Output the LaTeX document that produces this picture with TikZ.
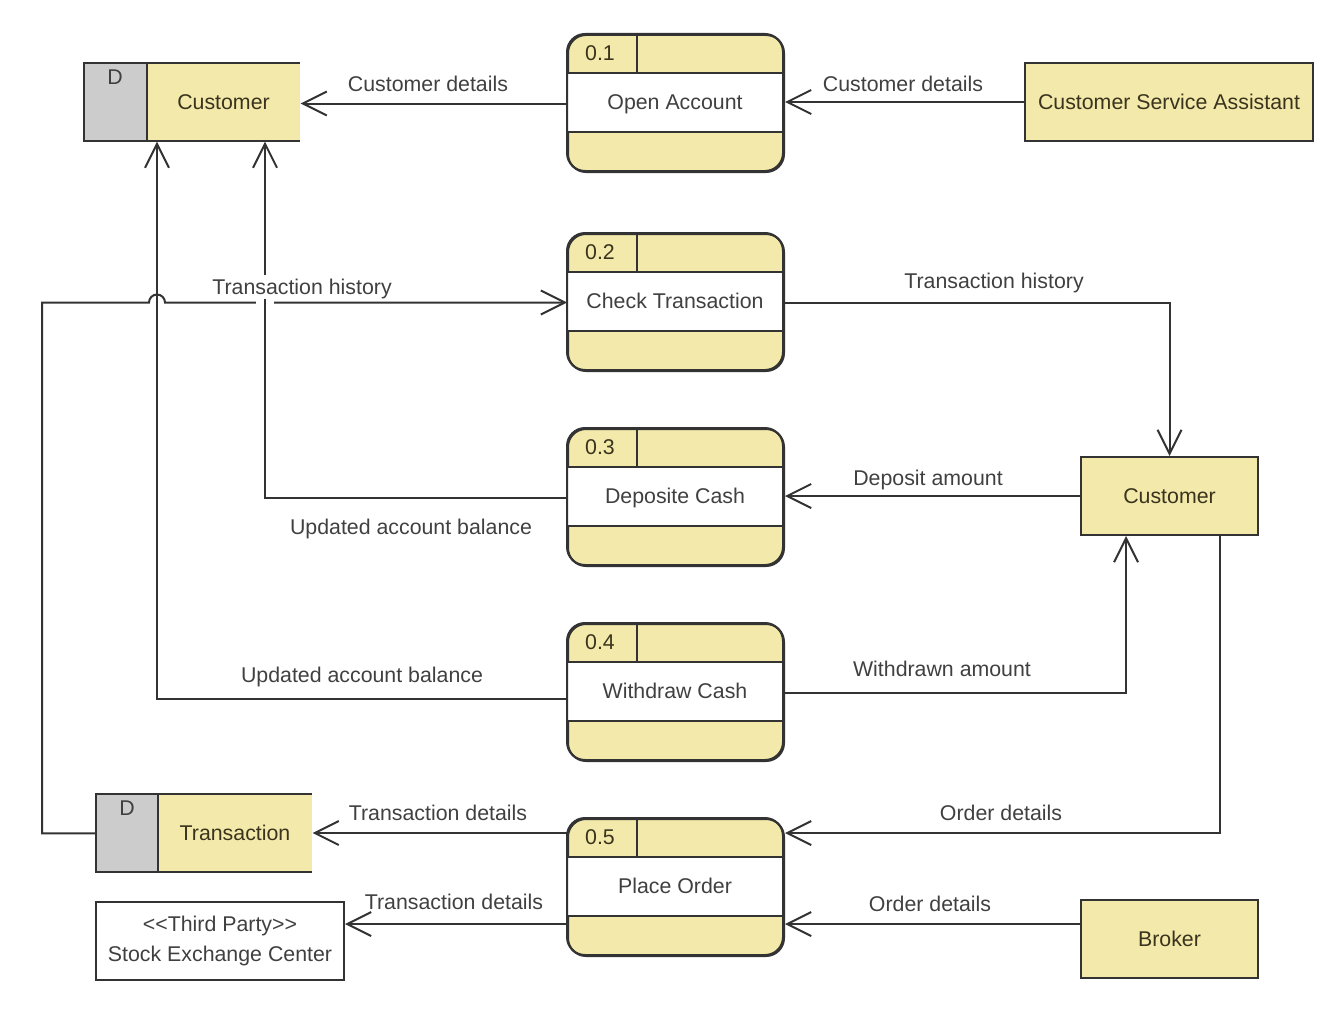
\documentclass[tikz,border=0pt]{standalone}
\usepackage{fontspec}
\setmainfont{Liberation Sans}
\usetikzlibrary{arrows.meta,calc}
\definecolor{dfdyel}{RGB}{242,233,170}
\definecolor{dfdgray}{RGB}{204,204,204}
\definecolor{dfdline}{RGB}{51,51,51}
\definecolor{dfdtext}{RGB}{64,64,64}
\definecolor{enttext}{RGB}{58,52,30}
\tikzset{
  flow/.style={draw=dfdline, line width=1.5pt, -{Straight Barb[length=18pt,width=18pt,line width=1.5pt]}},
  txt/.style={text height=11.5pt, text depth=0pt, inner sep=0pt},
  lbl/.style={txt, text=dfdtext},
  ent/.style={draw=dfdline, fill=dfdyel, line width=1.5pt, text=enttext, inner sep=0pt, minimum height=58.5pt},
  procbox/.style={draw=dfdline, fill=dfdyel, line width=1.5pt, rounded corners=13.5pt, minimum width=162pt, minimum height=102.75pt, inner sep=0pt, anchor=north west},
  storebox/.style={fill=dfdyel, minimum width=162pt, minimum height=58.5pt, inner sep=0pt, anchor=north west},
  ptext/.style={txt, text=dfdtext},
}
\newcommand\dfdproc[5]{%
  \begin{scope}[shift={(#2,#3)}]
    \node[procbox] (#1) at (0,0) {};
    \fill[white] (0,39) rectangle (216,98);
    \draw[dfdline, line width=1.5pt] (0,39) -- (216,39) (0,98) -- (216,98) (70,0) -- (70,39);
    \draw[dfdline, line width=1.5pt, rounded corners=13.5pt] (0,0) rectangle (216,137);
    \node[ptext, text=enttext] (#1id) at (33,18.5) {#4};
    \node[ptext] (#1txt) at (108,67.5) {#5};
  \end{scope}}
\newcommand\dfdstore[5]{%
  \begin{scope}[shift={(#2,#3)}]
    \node[storebox] (#1) at (0,0) {};
    \fill[dfdgray] (0,0) rectangle (#4,78);
    \draw[dfdline, line width=1.5pt] (216,0) -- (0,0) -- (0,78) -- (216,78) (#4,0) -- (#4,78);
    \node[ptext] (#1d) at (31,14) {D};
    \node[txt, text=enttext] (#1txt) at ({(#4+216)/2},38.5) {#5};
  \end{scope}}
\begin{document}
\begin{tikzpicture}[x=0.75pt, y=-0.75pt, font=\fontsize{16}{19}\selectfont]
\useasboundingbox (0,0) rectangle (1344,1031);

% processes
\dfdproc{p1}{567}{34}{0.1}{Open Account}
\dfdproc{p2}{567}{233}{0.2}{Check Transaction}
\dfdproc{p3}{567}{428}{0.3}{Deposite Cash}
\dfdproc{p4}{567}{623}{0.4}{Withdraw Cash}
\dfdproc{p5}{567}{818}{0.5}{Place Order}

% data stores
\dfdstore{ds1}{84}{63}{63}{Customer}
\dfdstore{ts}{96}{794}{62}{Transaction}

% external entities
\node[ent, text height=11.5pt, text depth=0pt, minimum width=216pt] (csa) at (1169,102) {Customer Service Assistant};
\node[ent, text height=11.5pt, text depth=0pt, minimum width=132.75pt] (cr) at (1169.5,496) {Customer};
\node[ent, text height=11.5pt, text depth=0pt, minimum width=132.75pt] (br) at (1169.5,939) {Broker};
\node[ent, fill=white, text=dfdtext, minimum width=186pt, align=center, font=\fontsize{16}{22.5}\selectfont] (tp) at (220,941) {<{}<Third Party>{}>\\Stock Exchange Center};

% helper coordinates
\coordinate (ds1a) at ($(ds1.south west)+(73,0)$);
\coordinate (ds1b) at ($(ds1.south west)+(181,0)$);
\coordinate (p4l) at ($(p4.west)+(0,6)$);
\coordinate (p5l) at ($(p5.south west)+(0,-33)$);
\coordinate (p5r) at ($(p5.south east)+(0,-33)$);
\coordinate (p5tl) at ($(p5.north west)+(0,15)$);
\coordinate (p5tr) at ($(p5.north east)+(0,15)$);

% flows
\draw[flow] (p1.west) -- (p1.west -| ds1.east);
\draw[flow] (csa.west) -- (csa.west -| p1.east);
\draw[flow] (ts.west) -- ++(-54,0) |- ($(p2.west -| ds1a)+(-8,0)$)
   arc[start angle=180, end angle=360, radius=8] -- (p2.west);
\draw[flow] (p4l) -| (ds1a);
\fill[white] ($(p2.west -| ds1b)+(-9,-5)$) rectangle ($(p2.west -| ds1b)+(9,5)$);
\draw[flow] (p3.west) -| (ds1b);
\draw[flow] (p2.east) -| (cr.north);
\draw[flow] (cr.west) -- (cr.west -| p3.east);
\draw[flow] (p4.east) -| ($(cr.south west)+(46,0)$);
\draw[flow] ($(cr.south west)+(140,0)$) |- (p5tr);
\draw[flow] (br.west |- p5r) -- (p5r);
\draw[flow] (p5tl) -- (p5tl -| ts.east);
\draw[flow] (p5l) -- (p5l -| tp.east);

% labels
\node[lbl] (l1) at (428,84) {Customer details};
\node[lbl] (l2) at (903,84) {Customer details};
\node[lbl, fill=white, inner ysep=3pt] (l3) at (302,287) {Transaction history};
\node[lbl] (l4) at (994,281) {Transaction history};
\node[lbl] (l5) at (928,478) {Deposit amount};
\node[lbl] (l6) at (411,527) {Updated account balance};
\node[lbl] (l7) at (362,675) {Updated account balance};
\node[lbl] (l8) at (942,669) {Withdrawn amount};
\node[lbl] (l9) at (438,813) {Transaction details};
\node[lbl] (l10) at (1001,813) {Order details};
\node[lbl] (l11) at (454,902) {Transaction details};
\node[lbl] (l12) at (930,904) {Order details};
\end{tikzpicture}
\end{document}
